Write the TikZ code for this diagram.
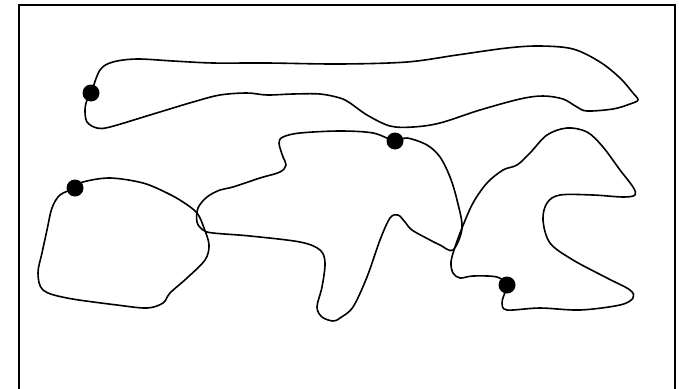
\documentclass[tikz,border=0pt]{standalone}
\begin{document}
\begin{tikzpicture}[x=1pt,y=-1pt,
  blob/.style={line width=1.6pt, line join=round},
  dotmark/.style={fill=black, circle, inner sep=0pt, minimum size=17pt}]
\useasboundingbox (0,0) rectangle (679,388);
\clip (0,0) rectangle (679,388);
\fill[white] (0,0) rectangle (679,388);
\draw[line width=2pt] (19,5) rectangle (675,400);
% top long shape
\draw[blob] plot[smooth cycle, tension=0.55] coordinates {
(91,93) (100,70) (113,62) (137,59) (173,61) (213,63) (267,63) (340,64) (407,62) (457,55) (507,48) (540,46) (573,49) (600,62) (620,78) (633,93) (638,100) (630,104) (613,109) (587,111) (577,107) (563,99) (543,96) (520,99) (480,110) (440,123) (413,127) (390,126) (367,115) (350,103) (340,98) (320,94) (293,94) (267,95) (247,93) (220,95) (193,102) (150,115) (110,127) (97,128) (87,122) (85,110) (87,100)};
% left blob
\draw[blob] plot[smooth cycle, tension=0.55] coordinates {
(75,188) (83,182) (110,178) (143,183) (167,193) (183,202) (197,213) (204,228) (209,245) (205,260) (187,278) (170,293) (163,303) (147,308) (117,305) (67,298) (43,290) (38,273) (42,253) (47,230) (52,208) (60,195)};
% middle shape
\draw[blob] plot[smooth cycle, tension=0.55] coordinates {
(395,141) (407,138) (427,145) (440,157) (450,177) (457,200) (462,228) (453,250) (440,245) (430,240) (412,230) (405,222) (398,215) (390,218) (380,240) (367,277) (353,307) (340,318) (333,321) (322,317) (317,307) (322,287) (325,263) (320,250) (300,242) (250,236) (213,233) (203,230) (197,222) (198,208) (207,197) (220,190) (233,187) (260,178) (280,172) (286,165) (283,157) (279,143) (283,137) (300,133) (340,131) (373,133)};
% right shape
\draw[blob] plot[smooth cycle, tension=0.55] coordinates {
(507,285) (497,277) (473,276) (460,278) (453,273) (451,262) (455,247) (462,228) (473,203) (487,183) (503,170) (517,165) (530,153) (547,135) (567,128) (587,132) (603,147) (620,170) (633,187) (635,195) (623,197) (593,195) (560,195) (547,203) (543,220) (550,243) (573,260) (607,278) (630,290) (633,298) (620,305) (580,310) (540,308) (507,310) (502,303) (504,295)};
% dots
\node[dotmark] (d1) at (91,93) {};
\node[dotmark] (d2) at (75,188) {};
\node[dotmark] (d3) at (395,141) {};
\node[dotmark] (d4) at (507,285) {};
\end{tikzpicture}
\end{document}
